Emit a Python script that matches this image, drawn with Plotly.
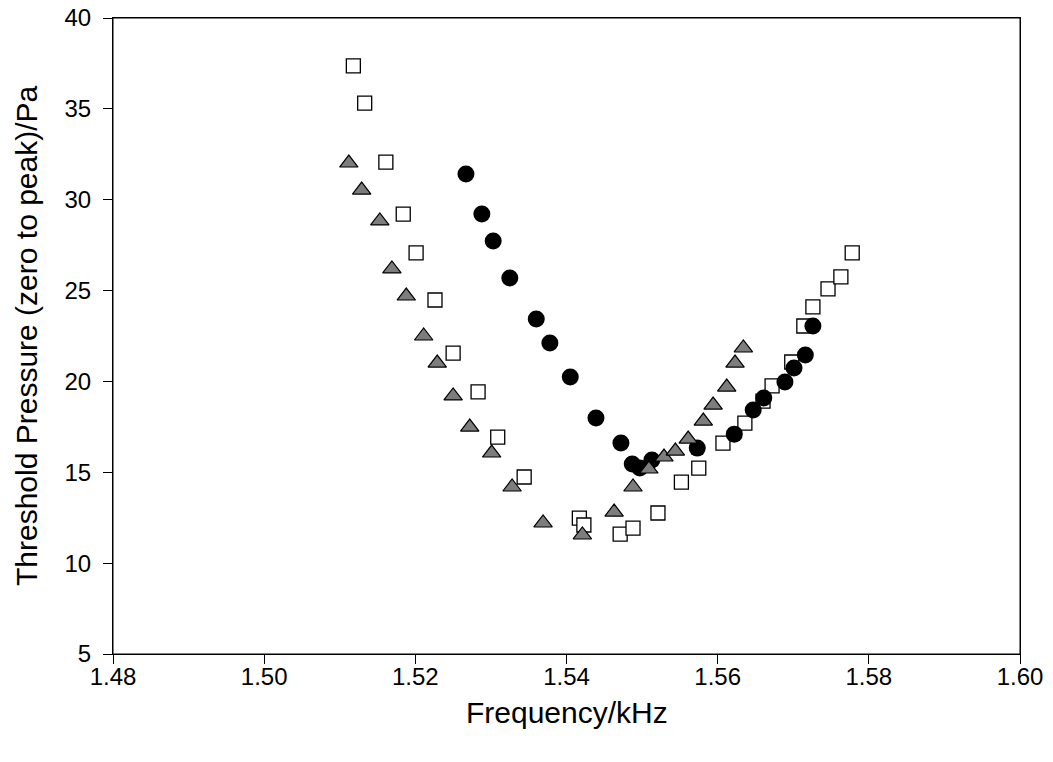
import plotly.graph_objects as go

# Open squares
sq_x = [1.5118, 1.5133, 1.5161, 1.5184, 1.5201, 1.5226, 1.5250, 1.5283, 1.5309, 1.5344,
        1.5417, 1.5423, 1.5471, 1.5488, 1.5521, 1.5552, 1.5575, 1.5607, 1.5636, 1.5660,
        1.5672, 1.5698, 1.5714, 1.5726, 1.5746, 1.5763, 1.5778]
sq_y = [37.36, 35.32, 32.07, 29.21, 27.07, 24.48, 21.56, 19.42, 16.94, 14.74,
        12.48, 12.10, 11.60, 11.93, 12.76, 14.46, 15.23, 16.61, 17.71, 18.92,
        19.75, 21.07, 23.05, 24.10, 25.09, 25.75, 27.07]

# Filled circles
ci_x = [1.5267, 1.5288, 1.5303, 1.5325, 1.5360, 1.5378, 1.5405, 1.5439, 1.5472, 1.5487,
        1.5497, 1.5513, 1.5573, 1.5622, 1.5647, 1.5661, 1.5689, 1.5701, 1.5716, 1.5726]
ci_y = [31.41, 29.21, 27.73, 25.69, 23.43, 22.11, 20.24, 17.99, 16.61, 15.45,
        15.23, 15.67, 16.33, 17.10, 18.43, 19.09, 19.97, 20.74, 21.45, 23.05]

# Grey triangles
tr_x = [1.5112, 1.5129, 1.5153, 1.5169, 1.5188, 1.5211, 1.5229, 1.5250, 1.5272, 1.5301,
        1.5328, 1.5369, 1.5421, 1.5463, 1.5488, 1.5509, 1.5529, 1.5544, 1.5561, 1.5581,
        1.5594, 1.5612, 1.5623, 1.5634]
tr_y = [32.02, 30.53, 28.83, 26.19, 24.70, 22.50, 21.01, 19.20, 17.49, 16.06,
        14.19, 12.21, 11.55, 12.81, 14.19, 15.18, 15.84, 16.17, 16.83, 17.82,
        18.70, 19.69, 21.01, 21.84]

x_ticks = [1.48, 1.50, 1.52, 1.54, 1.56, 1.58, 1.60]
y_ticks = [5, 10, 15, 20, 25, 30, 35, 40]

x_title = "Frequency/kHz"
y_title = "Threshold Pressure (zero to peak)/Pa"

fig = go.Figure()
fig.add_trace(go.Scatter(x=sq_x, y=sq_y, mode="markers",
                         marker=dict(symbol="square", size=14, color="white",
                                     line=dict(color="black", width=1.3))))
fig.add_trace(go.Scatter(x=ci_x, y=ci_y, mode="markers",
                         marker=dict(symbol="circle", size=17, color="black",
                                     line=dict(color="black", width=0))))
fig.add_trace(go.Scatter(x=tr_x, y=tr_y, mode="markers",
                         marker=dict(symbol="triangle-up", size=16, color="#7d7d7d",
                                     line=dict(color="black", width=1.2))))

font_family = "Liberation Sans, Arial, sans-serif"
fig.update_layout(
    width=1053, height=762,
    margin=dict(l=113, r=33, t=18, b=108, autoexpand=False),
    paper_bgcolor="white", plot_bgcolor="white",
    showlegend=False,
    font=dict(family=font_family, color="black"),
    xaxis=dict(range=[1.48, 1.60], tickvals=x_ticks,
               ticktext=[f"{v:.2f}" for v in x_ticks],
               showline=True, linecolor="black", linewidth=1, mirror=True,
               ticks="outside", ticklen=9, tickcolor="black", tickwidth=1,
               showgrid=False, zeroline=False, automargin=False,
               ticklabeloverflow="allow", ticklabelstandoff=-8,
               tickfont=dict(size=24)),
    yaxis=dict(range=[5, 40], tickvals=y_ticks,
               showline=True, linecolor="black", linewidth=1, mirror=True,
               ticks="outside", ticklen=9, tickcolor="black", tickwidth=1,
               showgrid=False, zeroline=False, automargin=False,
               ticklabeloverflow="allow", ticklabelstandoff=7,
               tickfont=dict(size=24)),
    shapes=[dict(type="rect", xref="paper", yref="paper", x0=0, y0=0, x1=1, y1=1,
                 line=dict(color="black", width=1), fillcolor="rgba(0,0,0,0)",
                 layer="above")],
    annotations=[
        dict(text=x_title, xref="paper", yref="paper", x=0.5, y=0,
             xanchor="center", yanchor="middle", yshift=-58, showarrow=False,
             font=dict(size=30)),
        dict(text=y_title, xref="paper", yref="paper", x=0, y=0.5,
             xanchor="center", yanchor="middle", xshift=-87, textangle=-90,
             showarrow=False, font=dict(size=30)),
    ],
)

fig.write_html("out.html", config={"displayModeBar": False},
               post_script="document.body.style.margin='0';document.body.style.padding='0';")
